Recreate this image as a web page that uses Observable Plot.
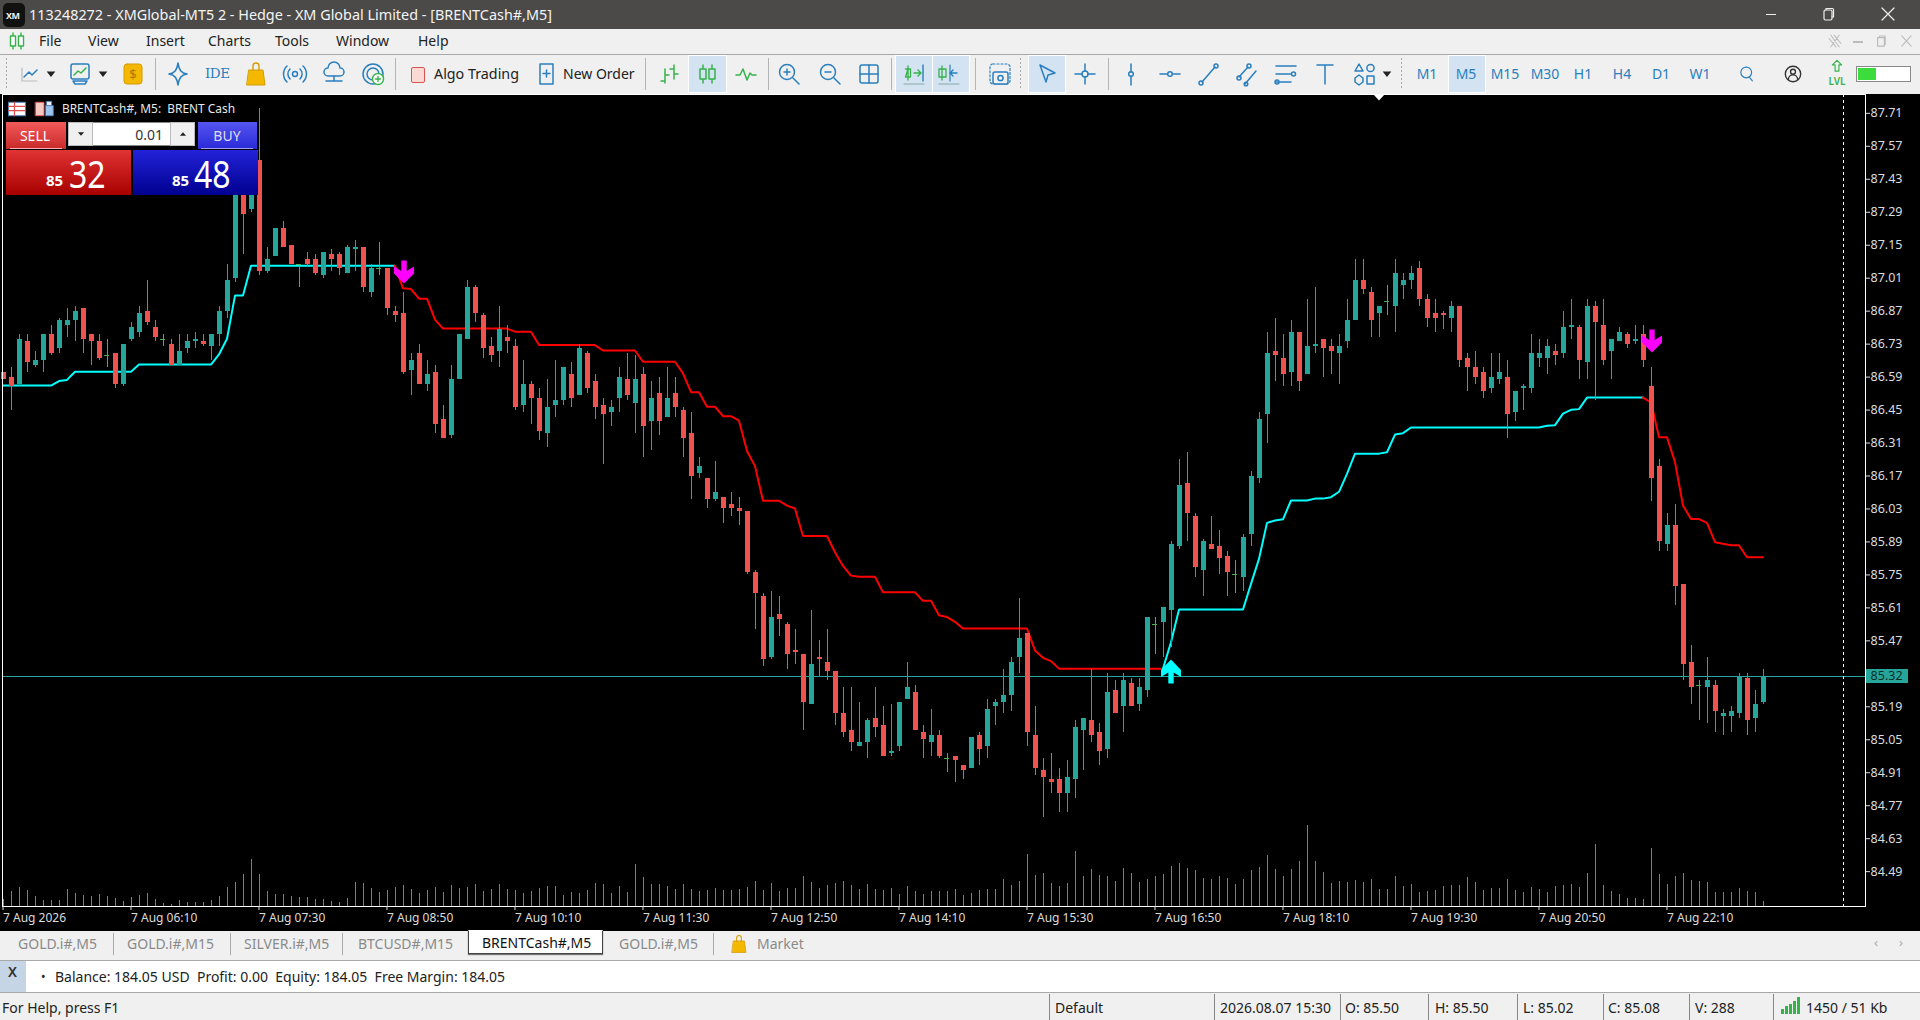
<!DOCTYPE html>
<html><head><meta charset="utf-8">
<script src="https://cdn.jsdelivr.net/npm/d3@7"></script>
<script src="https://cdn.jsdelivr.net/npm/@observablehq/plot@0.6"></script>
<style>
html,body{margin:0;padding:0;background:#f0f0f0;overflow:hidden}
#app{position:relative;width:1920px;height:1020px;overflow:hidden;font-family:"Noto Sans",sans-serif;background:#f0f0f0}
#app>*{position:absolute}
.t{white-space:nowrap;line-height:1;transform:translateY(-50%)}
svg{display:block}
.plot{left:0;top:94px;background:transparent}
</style></head><body><div id="app"></div>
<script>
const opens=[86.61,86.59,86.56,86.74,86.64,86.66,86.77,86.71,86.81,86.83,
86.88,86.77,86.74,86.68,86.69,86.56,86.75,86.78,86.87,86.80,
86.75,86.73,86.64,86.71,86.74,86.74,86.72,86.77,86.87,87.01,
87.40,87.30,87.51,87.04,87.10,87.22,87.15,87.07,87.09,87.09,
87.02,87.11,87.11,87.03,87.13,87.14,86.95,87.05,87.05,86.87,
86.86,86.62,86.69,86.56,86.61,86.41,86.34,86.58,86.75,86.97,
86.85,86.72,86.70,86.76,86.72,86.47,86.56,86.50,86.35,86.47,
86.49,86.60,86.51,86.69,86.57,86.47,86.44,86.50,86.58,86.48,
86.60,86.40,86.52,86.42,86.52,86.45,86.35,86.18,86.16,86.07,
86.08,86.05,86.03,86.02,85.76,85.66,85.40,85.58,85.54,85.43,
85.41,85.20,85.40,85.38,85.34,85.16,85.09,85.02,85.04,85.14,
85.11,84.99,85.02,85.22,85.25,85.08,85.04,85.07,84.97,84.98,
84.94,84.93,85.07,85.02,85.19,85.21,85.24,85.40,85.50,85.07,
84.92,84.88,84.88,84.82,84.88,85.09,85.13,85.08,85.01,85.26,
85.19,85.29,85.20,85.26,85.54,85.55,85.60,85.87,86.14,86.00,
85.77,85.88,85.87,85.83,85.75,85.74,85.92,86.16,86.43,86.70,
86.67,86.61,86.78,86.60,86.72,86.75,86.72,86.69,86.74,86.83,
87.00,86.95,86.86,86.91,86.89,86.98,87.00,87.05,86.92,86.86,
86.86,86.84,86.89,86.67,86.63,86.61,86.54,86.58,86.59,86.44,
86.54,86.54,86.67,86.67,86.70,86.69,86.80,86.80,86.65,86.89,
86.81,86.70,86.74,86.77,86.74,86.77,86.55,86.21,85.88,85.96,
85.71,85.38,85.28,85.27,85.28,85.15,85.15,85.16,85.31,85.14,
85.21];
const highs=[86.61,86.63,86.77,86.77,86.70,86.77,86.81,86.84,86.88,86.89,
86.88,86.77,86.77,86.75,86.69,86.73,86.82,86.89,87.00,86.83,
86.77,86.75,86.77,86.77,86.78,86.77,86.77,86.89,87.07,87.45,
87.45,87.42,87.73,87.14,87.22,87.25,87.15,87.07,87.12,87.11,
87.12,87.13,87.12,87.15,87.17,87.14,87.07,87.16,87.05,86.89,
86.95,86.69,86.73,86.66,86.64,86.47,86.64,86.77,87.00,86.98,
86.86,86.76,86.89,86.81,86.75,86.66,86.57,86.54,86.58,86.66,
86.63,86.65,86.73,86.70,86.60,86.50,86.49,86.63,86.69,86.68,
86.63,86.57,86.59,86.63,86.59,86.46,86.44,86.25,86.16,86.23,
86.08,86.10,86.08,86.02,85.77,85.67,85.68,85.66,85.55,85.52,
85.41,85.60,85.47,85.52,85.34,85.27,85.27,85.21,85.14,85.27,
85.19,85.20,85.21,85.38,85.28,85.11,85.18,85.09,84.99,84.98,
84.94,85.06,85.08,85.22,85.22,85.35,85.40,85.65,85.50,85.19,
84.97,84.99,84.93,84.96,85.13,85.14,85.35,85.12,85.33,85.30,
85.33,85.31,85.31,85.57,85.57,85.61,85.89,86.24,86.27,86.01,
85.90,86.00,85.94,85.85,85.81,85.92,86.19,86.44,86.78,86.84,
86.77,86.83,86.78,86.92,86.97,86.75,86.75,86.77,86.92,87.09,
87.09,86.97,86.89,86.98,87.09,87.03,87.06,87.08,86.94,86.92,
86.87,86.91,86.89,86.69,86.70,86.63,86.69,86.69,86.66,86.53,
86.56,86.77,86.75,86.75,86.73,86.87,86.92,86.81,86.92,86.91,
86.92,86.75,86.80,86.78,86.81,86.81,86.63,86.24,86.01,86.05,
85.71,85.45,85.30,85.40,85.30,85.18,85.19,85.33,85.33,85.26,
85.35];
const lows=[86.58,86.45,86.55,86.61,86.63,86.61,86.68,86.69,86.76,86.74,
86.69,86.64,86.66,86.63,86.54,86.55,86.74,86.76,86.81,86.74,
86.72,86.64,86.64,86.69,86.71,86.72,86.66,86.72,86.84,86.99,
87.11,87.29,87.02,87.03,87.10,87.14,87.07,86.97,87.06,87.02,
87.01,87.04,87.02,87.03,87.04,86.95,86.93,87.02,86.85,86.82,
86.60,86.51,86.56,86.53,86.35,86.33,86.33,86.58,86.75,86.82,
86.67,86.65,86.63,86.69,86.45,86.44,86.39,86.32,86.29,86.42,
86.47,86.46,86.51,86.52,86.41,86.22,86.38,86.44,86.49,86.35,
86.25,86.28,86.34,86.42,86.42,86.25,86.07,86.16,86.03,86.06,
85.97,86.00,85.96,85.75,85.52,85.36,85.39,85.49,85.35,85.37,
85.09,85.20,85.32,85.30,85.11,85.06,85.00,85.02,84.97,85.06,
84.98,84.98,85.00,85.22,85.09,84.97,84.98,84.97,84.91,84.87,
84.88,84.93,84.94,84.97,85.11,85.16,85.17,85.33,85.02,84.90,
84.72,84.82,84.74,84.74,84.80,84.92,85.04,84.94,84.97,85.16,
85.08,85.19,85.17,85.23,85.41,85.40,85.44,85.86,85.89,85.74,
85.66,85.86,85.75,85.66,85.67,85.68,85.87,86.14,86.31,86.57,
86.55,86.55,86.53,86.60,86.69,86.59,86.60,86.56,86.71,86.83,
86.94,86.76,86.76,86.85,86.78,86.92,86.96,86.89,86.80,86.78,
86.79,86.78,86.63,86.53,86.56,86.50,86.52,86.56,86.33,86.40,
86.45,86.52,86.63,86.60,86.64,86.67,86.75,86.58,86.58,86.49,
86.64,86.58,86.74,86.71,86.73,86.63,86.06,85.85,85.85,85.62,
85.30,85.20,85.13,85.12,85.08,85.07,85.08,85.14,85.07,85.08,
85.20];
const closes=[86.58,86.55,86.75,86.65,86.66,86.77,86.69,86.83,86.83,86.87,
86.75,86.74,86.67,86.68,86.56,86.73,86.80,86.86,86.82,86.76,
86.75,86.64,86.70,86.74,86.75,86.73,86.77,86.87,87.00,87.41,
87.28,87.40,87.04,87.09,87.22,87.14,87.07,87.07,87.07,87.03,
87.12,87.09,87.05,87.14,87.14,86.97,87.05,87.05,86.88,86.85,
86.61,86.66,86.56,86.60,86.39,86.33,86.58,86.77,86.97,86.86,
86.71,86.68,86.79,86.74,86.46,86.56,86.50,86.36,86.46,86.49,
86.63,86.50,86.71,86.54,86.46,86.43,86.46,86.59,86.51,86.58,
86.38,86.50,86.40,86.50,86.46,86.33,86.17,86.21,86.07,86.10,
86.03,86.03,86.02,85.76,85.67,85.39,85.57,85.56,85.41,85.42,
85.21,85.37,85.39,85.34,85.16,85.08,85.04,85.04,85.13,85.10,
84.98,85.00,85.21,85.27,85.09,85.05,85.07,84.98,84.97,84.96,
84.92,85.06,85.01,85.18,85.21,85.24,85.38,85.48,85.08,84.93,
84.89,84.87,84.82,84.89,85.10,85.14,85.07,85.00,85.25,85.16,
85.30,85.19,85.27,85.57,85.54,85.61,85.88,86.13,86.01,85.78,
85.89,85.86,85.82,85.76,85.75,85.91,86.17,86.41,86.69,86.68,
86.60,86.78,86.57,86.72,86.73,86.71,86.70,86.72,86.83,87.00,
86.96,86.83,86.89,86.91,87.03,87.00,87.03,86.92,86.84,86.84,
86.85,86.89,86.66,86.63,86.59,86.53,86.59,86.61,86.43,86.53,
86.55,86.69,86.69,86.72,86.68,86.80,86.81,86.66,86.89,86.82,
86.66,86.75,86.78,86.73,86.75,86.66,86.16,85.89,85.96,85.70,
85.37,85.27,85.28,85.30,85.17,85.16,85.17,85.32,85.13,85.20,
85.32];
const volumes=[40,84,106,90,57,35,35,35,95,73,62,57,68,57,46,29,51,62,73,40,18,13,35,24,24,24,35,57,106,134,178,260,178,84,68,68,57,51,51,40,40,29,24,46,134,128,101,79,90,106,117,95,73,90,106,79,117,101,106,123,84,95,123,95,90,73,84,101,112,112,62,79,73,90,128,123,73,112,79,233,161,123,123,112,95,123,95,84,90,101,90,90,95,106,139,90,128,84,101,101,167,134,101,117,128,139,117,95,123,95,90,101,68,112,84,68,84,84,84,95,
62,73,90,95,95,150,117,139,288,172,183,128,112,128,304,167,205,172,167,139,211,183,134,150,167,178,222,238,211,200,156,150,167,156,123,150,200,216,282,205,167,205,249,447,249,189,128,139,134,145,134,150,95,95,167,112,123,79,84,90,112,117,117,161,134,90,101,101,150,90,79,106,95,79,112,117,123,106,183,343,117,84,68,46,46,40,321,178,123,167,183,145,139,134,79,79,79,101,84,79,29];

const cyanA_x=[0,6,7,8,9,16,17,26,27,28,29,30,31,49];
const cyanA_y=[86.554,86.554,86.573,86.578,86.613,86.613,86.643,86.643,86.686,86.753,86.936,86.936,87.063,87.063];
const redA_x=[49,50,51,52,53,54,55,63,64,66,67,74,75,79,80,84,85,86,87,88,89,90,91,92,93,94,95,97,98,99,100,103,104,105,106,107,109,110,114,115,116,117,118,119,120,128,129,130,131,132,145];
const redA_y=[87.063,86.967,86.964,86.923,86.923,86.834,86.796,86.796,86.783,86.783,86.726,86.726,86.703,86.703,86.655,86.655,86.606,86.526,86.526,86.464,86.464,86.424,86.424,86.405,86.276,86.212,86.065,86.065,86.044,86.032,85.915,85.915,85.846,85.788,85.747,85.742,85.742,85.676,85.676,85.640,85.640,85.579,85.571,85.551,85.522,85.522,85.429,85.398,85.384,85.352,85.352];
const cyanB_x=[145,146,147,155,156,157,158,159,160,161,163,164,165,166,167,168,169,172,173,174,175,176,192,193,194,195,196,197,198,205];
const cyanB_y=[85.352,85.464,85.603,85.603,85.712,85.818,85.971,85.981,85.986,86.066,86.066,86.074,86.074,86.080,86.103,86.179,86.265,86.265,86.271,86.346,86.352,86.376,86.376,86.383,86.386,86.435,86.451,86.454,86.503,86.503];
const redB_x=[205,206,207,208,209,210,211,212,213,214,215,216,217,218,220];
const redB_y=[86.503,86.483,86.335,86.335,86.229,86.045,85.987,85.987,85.971,85.889,85.882,85.876,85.876,85.825,85.825];

const sellArrows=[{i:50,p:87.036},{i:206,p:86.743}];
const buyArrows=[{i:146,p:85.34}];

const priceTicks=[87.71,87.57,87.43,87.29,87.15,87.01,86.87,86.73,86.59,86.45,86.31,86.17,86.03,85.89,85.75,85.61,85.47,85.19,85.05,84.91,84.77,84.63,84.49];
const timeTicks=[0,16,32,48,64,80,96,112,128,144,160,176,192,208];
const timeLabels=["7 Aug 2026","7 Aug 06:10","7 Aug 07:30","7 Aug 08:50","7 Aug 10:10","7 Aug 11:30","7 Aug 12:50","7 Aug 14:10","7 Aug 15:30","7 Aug 16:50","7 Aug 18:10","7 Aug 19:30","7 Aug 20:50","7 Aug 22:10"];
const lastPrice=85.32, shiftBar=230, markerBar=172;

const UP="#26a69a",DOWN="#ef5350",DOJI="#4caf50";
const bars=opens.map((o,i)=>({i,o,h:highs[i],l:lows[i],c:closes[i]}));
const barColor=d=>d.c>d.o?UP:d.c<d.o?DOWN:DOJI;
const xDomain=[-0.0625,232.8125];
const W=1920,H=837,MB=25;
const FONT='"Noto Sans",sans-serif';

const app=document.getElementById("app");
function rect(x,y,w,h,bg,extra=""){const d=document.createElement("div");d.style.cssText=`left:${x}px;top:${y}px;width:${w}px;height:${h}px;background:${bg};${extra}`;app.appendChild(d);return d}
function txt(x,y,s,size=14,color="#111",extra=""){const d=document.createElement("div");d.className="t";d.textContent=s;d.style.cssText=`left:${x}px;top:${y}px;font-size:${size}px;color:${color};${extra}`;app.appendChild(d);return d}
function ic(cx,cy,inner,s=26){const d=document.createElement("div");d.style.cssText=`left:${cx-s/2}px;top:${cy-s/2}px;width:${s}px;height:${s}px`;d.innerHTML=`<svg width="${s}" height="${s}" viewBox="0 0 26 26" fill="none" stroke-linecap="round" stroke-linejoin="round">${inner}</svg>`;app.appendChild(d)}

// --- chrome: frame bars ---
rect(0,0,1920,29,"#4b4a48");
rect(0,29,1920,25,"#f0f0f0");
rect(0,54,1920,1,"#a8a8a8");
rect(0,55,1920,39,"#f0f0f0");
rect(0,94,1920,837,"#000");

// --- volume plot ---
const vol=Plot.plot({width:W,height:H,marginLeft:2,marginRight:55,marginTop:0,marginBottom:MB,
  style:{background:"transparent"},
  x:{domain:xDomain,axis:null},
  y:{domain:[0,550],range:[H-MB,H-MB-100],axis:null},
  marks:[Plot.ruleX(volumes,{x:(d,i)=>i,y1:0,y2:d=>d,stroke:UP,strokeWidth:1,shapeRendering:"crispEdges"})]});
vol.classList.add("plot");vol.style.position="absolute";app.appendChild(vol);

// --- arrow symbols ---
const arrowDown={draw(c){c.moveTo(-2.7,-11.5);c.lineTo(2.7,-11.5);c.lineTo(2.7,-1);c.lineTo(10,-5.5);c.lineTo(10,1.5);c.lineTo(0,11.5);c.lineTo(-10,1.5);c.lineTo(-10,-5.5);c.lineTo(-2.7,-1);c.closePath()}};
const arrowUp={draw(c){c.moveTo(-2.7,12);c.lineTo(2.7,12);c.lineTo(2.7,1);c.lineTo(10,5.5);c.lineTo(10,-1.5);c.lineTo(0,-12);c.lineTo(-10,-1.5);c.lineTo(-10,5.5);c.lineTo(-2.7,1);c.closePath()}};
const notch={draw(c){c.moveTo(-5.5,0);c.lineTo(5.5,0);c.lineTo(0,6);c.closePath()}};

// --- main plot ---
const lineOpts=(xs,color)=>({x:xs,y:d=>d,stroke:color,strokeWidth:2,strokeLinejoin:"miter"});
const main=Plot.plot({width:W,height:H,marginLeft:2,marginRight:55,marginTop:0,marginBottom:MB,
  style:{background:"transparent",fontFamily:FONT,fontSize:"12.5px",color:"#ddd"},
  x:{domain:xDomain},
  y:{domain:[84.342,87.790]},
  marks:[
    Plot.ruleY([lastPrice],{stroke:UP,strokeWidth:1,shapeRendering:"crispEdges"}),
    Plot.ruleX([shiftBar],{stroke:"#fff",strokeWidth:1,strokeDasharray:"3,3",shapeRendering:"crispEdges"}),
    Plot.line(cyanA_y,lineOpts(cyanA_x,"#00ffff")),
    Plot.line(redA_y,lineOpts(redA_x,"#ff0000")),
    Plot.line(cyanB_y,lineOpts(cyanB_x,"#00ffff")),
    Plot.line(redB_y,lineOpts(redB_x,"#ff0000")),
    Plot.ruleX(bars,{x:"i",y1:"l",y2:"h",stroke:barColor,strokeWidth:1,shapeRendering:"crispEdges"}),
    Plot.ruleX(bars.filter(d=>d.o!==d.c),{x:"i",y1:"o",y2:"c",stroke:barColor,strokeWidth:5,shapeRendering:"crispEdges"}),
    Plot.ruleY(bars.filter(d=>d.o===d.c),{y:"o",x1:d=>d.i-0.3,x2:d=>d.i+0.3,stroke:DOJI,strokeWidth:1,shapeRendering:"crispEdges"}),
    Plot.dot(sellArrows,{x:"i",y:"p",dx:1,symbol:arrowDown,fill:"#ff00ff",stroke:"none"}),
    Plot.dot(buyArrows,{x:"i",y:"p",symbol:arrowUp,fill:"#00ffff",stroke:"none"}),
    Plot.dot([markerBar],{x:d=>d,frameAnchor:"top",symbol:notch,fill:"#fff",stroke:"none"}),
    Plot.frame({stroke:"#fff",strokeWidth:1,shapeRendering:"crispEdges"}),
    Plot.axisY({anchor:"right",ticks:priceTicks,tickSize:4,tickPadding:1,tickFormat:d3.format(".2f"),label:null,color:"#ddd",fontSize:12.5}),
    Plot.axisX({anchor:"bottom",ticks:timeTicks,tickSize:4,tickPadding:3,tickFormat:d=>timeLabels[timeTicks.indexOf(d)],label:null,color:"#ddd",textAnchor:"start",fontSize:12}),
    Plot.ruleY([lastPrice],{x1:232.9,x2:238.2,stroke:UP,strokeWidth:14,shapeRendering:"crispEdges"}),
    Plot.text([lastPrice],{x:233.45,y:d=>d,text:d=>d.toFixed(2),fill:"#0b2f2b",textAnchor:"start",fontSize:12.5})
  ]});
main.classList.add("plot");main.style.position="absolute";app.appendChild(main);

// --- title bar ---
rect(3,3,22,24,"#111","border-radius:5px");
txt(6,15,"XM",9,"#eee","font-weight:700;letter-spacing:-.5px");
txt(29,15,"113248272 - XMGlobal-MT5 2 - Hedge - XM Global Limited - [BRENTCash#,M5]",14.4,"#f4f4f4");
rect(1766,14,10,1.2,"#eee");
ic(1828,14,`<rect x="9" y="9" width="8" height="10" rx="1.5" stroke="#eee" stroke-width="1.2"/><path d="M11 9V7.5h6.5a1 1 0 0 1 1 1V16H17" stroke="#eee" stroke-width="1.2"/>`);
ic(1888,14,`<path d="M7 7l12 12M19 7L7 19" stroke="#eee" stroke-width="1.2"/>`);

// --- menu bar ---
ic(17,41,`<path d="M9 5v16M17 5v16" stroke="#35b34a" stroke-width="1.4"/><rect x="6.5" y="8" width="5" height="10" fill="#fff" stroke="#35b34a" stroke-width="1.4"/><rect x="14.5" y="8" width="5" height="10" fill="#fff" stroke="#35b34a" stroke-width="1.4"/>`);
[["File",39],["View",88],["Insert",146],["Charts",208],["Tools",275],["Window",336],["Help",418]].forEach(([s,x])=>txt(x,41,s,14,"#222"));
ic(1835,41,`<path d="M8 6l10 14M18 6L8 20M12 6l8 10M6 10l8 10" stroke="#bbb" stroke-width="1.2"/>`,22);
rect(1853,41,10,1.5,"#bbb");
ic(1881,41,`<rect x="9" y="9" width="8" height="10" stroke="#bbb" stroke-width="1.4"/><path d="M11 9V7h7v10" stroke="#bbb" stroke-width="1.2"/>`,22);
ic(1906,41,`<path d="M8 7l11 12M19 7L8 19" stroke="#bbb" stroke-width="1.3"/>`,22);

// --- toolbar ---
const Y=74,B="#2a7fbf",Gn="#35b34a",S=`stroke="${B}" stroke-width="1.5"`;
const sep=x=>rect(x,58,1,32,"#b4b4b4");
[155,395,645,768,891,975,1108].forEach(sep);
[6,1020,1401].forEach(x=>rect(x,58,1,32,"repeating-linear-gradient(#aaa 0 2px,transparent 2px 4px)"));
const hl=(x,w)=>rect(x,56,w,36,"#d3e3f2","outline:1px solid #fff");
hl(689,37);hl(896,36);hl(933,36);hl(1029,36);hl(1449,36);
const drop=x=>ic(x,Y,`<path d="M6 9h14l-7 9z" fill="#222"/>`,16);
ic(29,Y,`<path d="M6 20h15M6 7v13" stroke="#bbb" stroke-width="1.2"/><path d="M8 16l5-5 3 3 5-5" ${S}/>`);drop(51);
ic(80,Y,`<rect x="4" y="3" width="18" height="15" rx="2" ${S}/><path d="M7 14l4-4 3 2 5-5" stroke="${Gn}" stroke-width="1.5"/><path d="M6 20h14l-2 3H8z" ${S}/>`);drop(103);
ic(133,Y,`<rect x="4" y="3" width="18" height="20" rx="3" fill="#f5b800" stroke="#d49c00"/><text x="13" y="18" text-anchor="middle" font-size="13" fill="#a87a00" font-family="Noto Sans">$</text>`);
ic(178,Y,`<path d="M13 2c1 7 3 10 9 11-6 1-8 4-9 11-1-7-3-10-9-11 6-1 8-4 9-11z" stroke="${B}" stroke-width="1.6"/>`);
txt(205,Y,"IDE",13.5,B,"font-family:'DejaVu Serif';font-weight:400;letter-spacing:-.5px");
ic(256,Y,`<path d="M6 9h14l2 15H4z" fill="#f5b800" stroke="#d49c00"/><path d="M10 9V5a3 3 0 0 1 6 0v4" stroke="#d49c00" stroke-width="1.4"/>`);
ic(295,Y,`<circle cx="13" cy="13" r="2.5" ${S}/><path d="M8 8a7 7 0 0 0 0 10M18 8a7 7 0 0 1 0 10M5 5a11 11 0 0 0 0 16M21 5a11 11 0 0 1 0 16" ${S}/>`);
ic(334,Y,`<path d="M7 15a4 4 0 0 1 0-8 6 6 0 0 1 12 0 4 4 0 0 1 0 8z" ${S}/><path d="M13 15v5M5 20h16" ${S}/>`);
ic(374,Y,`<circle cx="12" cy="13" r="10" ${S}/><circle cx="12" cy="13" r="6" ${S}/><circle cx="17" cy="18" r="5.5" fill="#fff" stroke="${Gn}" stroke-width="1.4"/><path d="M17 15.5v5M14.5 18h5" stroke="${Gn}" stroke-width="1.4"/>`);
rect(411,67,12,14,"#fbd9d5","border:1.2px solid #d9534f;border-radius:2px");
txt(434,Y,"Algo Trading",14.3,"#222");
ic(547,Y,`<path d="M6 3h13v20H6z" ${S}/><path d="M12.5 9v7M9 12.5h7" ${S}/>`);
txt(563,Y,"New Order",14,"#222");
ic(669,Y,`<path d="M9 8v14M9 20H5M9 14h4M18 4v14M18 8h-4M18 13h4" stroke="${Gn}" stroke-width="1.5"/>`);
ic(707,Y,`<path d="M9 4v18M18 4v18" stroke="${Gn}" stroke-width="1.5"/><rect x="6" y="8" width="6" height="10" fill="#d3e3f2" stroke="${Gn}" stroke-width="1.5"/><rect x="15" y="8" width="6" height="10" fill="#d3e3f2" stroke="${Gn}" stroke-width="1.5"/>`);
ic(746,Y,`<path d="M3 14h4l3-6 4 11 3-7 2 2h4" stroke="${Gn}" stroke-width="1.5"/>`);
ic(789,Y,`<circle cx="11" cy="11" r="7.5" ${S}/><path d="M17 17l6 6M8 11h6M11 8v6" ${S}/>`);
ic(830,Y,`<circle cx="11" cy="11" r="7.5" ${S}/><path d="M17 17l6 6M8 11h6" ${S}/>`);
ic(869,Y,`<rect x="4" y="4" width="18" height="18" rx="2" ${S}/><path d="M13 4v18M4 13h18" ${S}/>`);
ic(914,Y,`<path d="M7 5v14M7 8H4.5h5V16h-5z" stroke="${Gn}" stroke-width="1.3"/><path d="M13 12h6M17 9l3 3-3 3" stroke="${Gn}" stroke-width="1.4"/><path d="M22 4v16" stroke="${B}" stroke-width="1.4"/><path d="M3 23h20" stroke="#8aa" stroke-width="1"/>`);
ic(949,Y,`<path d="M6 5v14M10 8H3v8h7z" stroke="${Gn}" stroke-width="1.3"/><path d="M21 12h-6M17 9l-3 3 3 3" stroke="${B}" stroke-width="1.4"/><path d="M14 4v16" stroke="${B}" stroke-width="1.2"/><path d="M3 23h20" stroke="#8aa" stroke-width="1"/>`);
ic(1000,Y,`<rect x="3" y="3" width="20" height="20" rx="3" stroke="${B}" stroke-width="1.2" stroke-dasharray="2 2"/><rect x="6" y="11" width="15" height="12" rx="2" fill="#f0f0f0" ${S}/><circle cx="13.5" cy="17" r="2.6" ${S}/>`);
ic(1047,Y,`<path d="M6 4l15 8-7 2-2 7z" ${S}/>`);
ic(1085,Y,`<circle cx="13" cy="13" r="3" ${S}/><path d="M13 3v7M13 16v7M3 13h7M16 13h7" ${S}/>`);
ic(1131,Y,`<path d="M13 3v8M13 15v9" ${S}/><circle cx="13" cy="13" r="2.3" ${S}/>`);
ic(1170,Y,`<path d="M3 13h7.5M15.5 13H23" ${S}/><circle cx="13" cy="13" r="2.3" ${S}/>`);
ic(1209,Y,`<path d="M6 21L19 6" ${S}/><circle cx="5" cy="22" r="2" ${S}/><circle cx="20" cy="5" r="2" ${S}/>`);
ic(1248,Y,`<path d="M4 16L13 6M10 23l11-13" ${S}/><circle cx="14" cy="5" r="2" ${S}/><circle cx="4" cy="17" r="2" ${S}/><circle cx="11" cy="23" r="1.8" ${S}/>`);
ic(1286,Y,`<path d="M3 5h20M3 13h15M3 21h15" ${S}/><circle cx="20.5" cy="13" r="2" ${S}/><circle cx="4" cy="21" r="2" ${S}/>`);
ic(1325,Y,`<path d="M5 4h16M13 4v19" ${S}/>`);
ic(1365,Y,`<path d="M7 3l4 7H3z" ${S}/><circle cx="18.5" cy="7" r="3.6" ${S}/><path d="M7 14l4 3v4l-4 3-4-3v-4z" ${S}/><rect x="15" y="15" width="7" height="8" ${S}/>`);drop(1387);
["M1","M5","M15","M30","H1","H4","D1","W1"].forEach((s,i)=>{const x=[1427,1466,1505,1545,1583,1622,1661,1700][i];txt(x,Y,s,14,B,"transform:translate(-50%,-50%)")});
ic(1747,Y,`<circle cx="12" cy="11" r="7" ${S}/><path d="M16 17l4 5" ${S}/>`,20);
ic(1793,Y,`<circle cx="13" cy="13" r="10" stroke="#333" stroke-width="1.8"/><circle cx="13" cy="10" r="3.2" stroke="#333" stroke-width="1.8"/><path d="M7 20a6 6 0 0 1 12 0" stroke="#333" stroke-width="1.8"/>`,20);
ic(1837,68,`<path d="M13 3l6 6h-3.5v8h-5V9H7z" stroke="${Gn}" stroke-width="1.5"/>`,20);
txt(1837,81,"LVL",10,Gn,"transform:translate(-50%,-50%);font-weight:600");
rect(1856,66,55,16,"#fff","border:1.5px solid #8a8a8a;box-sizing:border-box");
rect(1858,68,18,12,"#3cdc3c");

// --- chart caption & trade panel ---
ic(17,109,`<rect x="3" y="5" width="20" height="16" fill="#fff" stroke="#4a7fc1" stroke-width="1.2"/><path d="M3 10h20M3 15h20M10 5v16" stroke="#e05050" stroke-width="1.4"/>`,22);
ic(44,109,`<path d="M3 5h10v16H3z" fill="#f6c9c2" stroke="#e05050"/><path d="M15 9h9v12h-9z" fill="#9dc6ee" stroke="#4a7fc1"/><path d="M16 4h6v5h-6z" fill="#eef" stroke="#4a7fc1"/>`,22);
txt(62,109,"BRENTCash#, M5:  BRENT Cash",11.9,"#e8e8e8","white-space:pre");
rect(6,122,60,27,"linear-gradient(#f25a5a,#c92a2a)");
rect(10,148,52,1,"#ffb0b0");
txt(35,136,"SELL",14,"#fff","transform:translate(-50%,-50%)");
rect(68,122,127,24,"#fff","border:1px solid #888;box-sizing:border-box");
rect(68,122,25,24,"#f0f0f0","border:1px solid #bbb;box-sizing:border-box");
rect(170,122,25,24,"#f0f0f0","border:1px solid #bbb;box-sizing:border-box");
ic(80.5,134,`<path d="M8 10h10l-5 6z" fill="#222"/>`,16);
ic(182.5,134,`<path d="M8 16h10l-5-6z" fill="#222"/>`,16);
txt(163,135,"0.01",14,"#333","transform:translate(-100%,-50%)");
rect(198,122,59,27,"linear-gradient(#5555f0,#2a2ad8)");
rect(201,148,52,1,"#a0a0ff");
txt(227,136,"BUY",14,"#dde","transform:translate(-50%,-50%)");
rect(6,150,125,45,"linear-gradient(#e03333,#a80000)");
rect(133,150,125,45,"linear-gradient(#2222d8,#000090)");
txt(46,180,"85",15,"#fff","font-weight:700");
txt(69,172,"32",39,"#fff","transform-origin:left center;transform:translateY(-50%) scaleX(.82)");
txt(172,180,"85",15,"#fff","font-weight:700");
txt(194,172,"48",39,"#fff","transform-origin:left center;transform:translateY(-50%) scaleX(.82)");

// --- tabs ---
rect(0,931,1920,29,"#f0f0f0");
rect(0,960,1920,1,"#a8a8a8");
[["GOLD.i#,M5",18],["GOLD.i#,M15",127],["SILVER.i#,M5",244],["BTCUSD#,M15",358],["GOLD.i#,M5",619],["Market",757]].forEach(([s,x])=>txt(x,944,s,14,"#8a8a8a"));
[113,230,342,713].forEach(x=>rect(x,933,1,22,"#aaa"));
rect(468,930,135,24,"#fff","border:1px solid #444;border-top:1px solid #fff;box-sizing:border-box;box-shadow:0 1px 1px #777");
txt(482,943,"BRENTCash#,M5",14,"#111");
ic(739,944,`<path d="M6 9h14l2 15H4z" fill="#f5b800" stroke="#d49c00"/><path d="M10 9V5a3 3 0 0 1 6 0v4" stroke="#d49c00" stroke-width="1.4"/>`,20);
txt(1874,942,"‹",13,"#aaa");txt(1899,942,"›",13,"#aaa");

// --- account strip ---
rect(0,961,1920,31,"#fff");
rect(0,961,26,31,"#c5d5e5");
txt(8,972,"X",14,"#333","font-weight:600");
txt(41,977,"•",12,"#222");
txt(55,977,"Balance: 184.05 USD  Profit: 0.00  Equity: 184.05  Free Margin: 184.05",14,"#222","white-space:pre");
rect(0,992,1920,1,"#a8a8a8");

// --- status bar ---
rect(0,993,1920,27,"#f0f0f0");
txt(2,1008,"For Help, press F1",14,"#222");
[1049,1214,1340,1428,1517,1603,1689,1773].forEach(x=>rect(x,994,1,26,"#888"));
[["Default",1055],["2026.08.07 15:30",1220],["O: 85.50",1345],["H: 85.50",1435],["L: 85.02",1523],["C: 85.08",1608],["V: 288",1695],["1450 / 51 Kb",1806]].forEach(([s,x])=>txt(x,1008,s,14,"#222"));
[[1781,5],[1785,8],[1789,10],[1793,13],[1797,17]].forEach(([x,h])=>rect(x,1014-h,2.5,h,"#35b34a"));
</script></body></html>
